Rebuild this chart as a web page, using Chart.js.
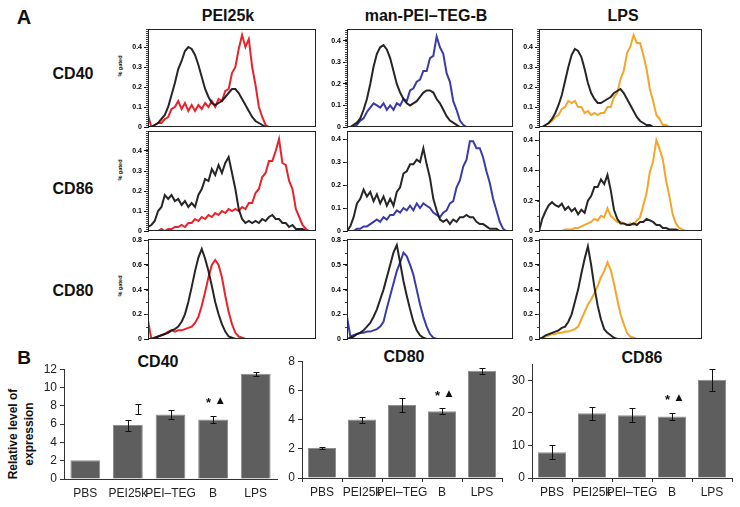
<!DOCTYPE html>
<html>
<head>
<meta charset="utf-8">
<script src="https://cdn.jsdelivr.net/npm/chart.js@4.4.1/dist/chart.umd.min.js"></script>
<style>
body { margin: 0; background: #fff; width: 740px; height: 507px; overflow: hidden; position: relative;
       font-family: "Liberation Sans", Arial, sans-serif; color: #111; }
canvas { position: absolute; }
.t { position: absolute; transform: translate(-50%, -50%); font-weight: bold; white-space: nowrap; }
.rot { transform: translate(-50%, -50%) rotate(-90deg); text-align: center; }
</style>
</head>
<body>
<div class="t" style="left:24px;top:17px;font-size:20px">A</div>
<div class="t" style="left:228px;top:16px;font-size:16px">PEI25k</div>
<div class="t" style="left:426px;top:16px;font-size:16px">man-PEI–TEG-B</div>
<div class="t" style="left:623px;top:16px;font-size:16px">LPS</div>
<div class="t" style="left:73px;top:74px;font-size:16px">CD40</div>
<div class="t" style="left:73px;top:189px;font-size:16px">CD86</div>
<div class="t" style="left:73px;top:291px;font-size:16px">CD80</div>
<div class="t rot" style="left:120px;top:66px;font-size:5.5px">% gated</div>
<div class="t rot" style="left:120px;top:170px;font-size:5.5px">% gated</div>
<div class="t rot" style="left:120px;top:286px;font-size:5.5px">% gated</div>
<div class="t" style="left:24px;top:358px;font-size:19px">B</div>
<div class="t" style="left:158px;top:362px;font-size:16px">CD40</div>
<div class="t" style="left:404px;top:357px;font-size:16px">CD80</div>
<div class="t" style="left:642px;top:358px;font-size:16px">CD86</div>
<div class="t rot" style="left:21px;top:434px;font-size:12px;line-height:16px">Relative level of<br>expression</div>

<script>
// Histogram x positions (percent of the fluorescence axis)
const bins = [0, 2, 4, 6, 8, 10, 12, 14, 16, 18, 20, 22, 24, 26, 28, 30, 32, 34, 36, 38,
              40, 42, 44, 46, 48, 50, 52, 54, 56, 58, 60, 62, 64, 66, 68, 70, 72, 74, 76, 78,
              80, 82, 84, 86, 88, 90, 92, 94, 96, 98];

// CD40 row (% gated)
const cd40Control = [0, 0, 0.01, 0.02, 0.04, 0.06, 0.1, 0.16, 0.22, 0.29,
                     0.33, 0.38, 0.4, 0.39, 0.36, 0.31, 0.25, 0.19, 0.15, 0.12,
                     0.11, 0.12, 0.13, 0.15, 0.17, 0.19, 0.19, 0.17, 0.14, 0.11,
                     0.08, 0.05, 0.03, 0.02, 0.01, 0];
const cd40Pei = [0.06, 0, 0.01, 0.02, 0.02, 0.04, 0.05, 0.09, 0.1, 0.13,
                 0.09, 0.12, 0.08, 0.11, 0.08, 0.11, 0.09, 0.12, 0.1, 0.13,
                 0.1, 0.14, 0.13, 0.18, 0.19, 0.27, 0.3, 0.39, 0.46, 0.4,
                 0.44, 0.3, 0.21, 0.1, 0.05, 0.01, 0];
const cd40ControlB = [0, 0, 0.01, 0.02, 0.04, 0.08, 0.13, 0.2, 0.28, 0.34,
                      0.37, 0.38, 0.36, 0.32, 0.26, 0.2, 0.16, 0.13, 0.11, 0.1,
                      0.11, 0.12, 0.14, 0.16, 0.17, 0.17, 0.16, 0.13, 0.11, 0.08,
                      0.05, 0.03, 0.02, 0.01, 0];
const cd40ManB = [0, 0, 0, 0.01, 0.03, 0.04, 0.07, 0.09, 0.11, 0.1,
                  0.09, 0.11, 0.08, 0.1, 0.08, 0.11, 0.1, 0.13, 0.12, 0.17,
                  0.18, 0.21, 0.22, 0.26, 0.26, 0.32, 0.33, 0.42, 0.37, 0.34,
                  0.25, 0.21, 0.12, 0.08, 0.03, 0.01, 0];
const cd40ControlL = [0, 0, 0.01, 0.02, 0.04, 0.07, 0.11, 0.16, 0.23, 0.3,
                      0.36, 0.39, 0.38, 0.35, 0.29, 0.22, 0.17, 0.14, 0.12, 0.12,
                      0.13, 0.14, 0.15, 0.17, 0.18, 0.19, 0.17, 0.14, 0.11, 0.08,
                      0.05, 0.03, 0.02, 0.01, 0.01, 0];
const cd40Lps = [0, 0, 0.01, 0.02, 0.03, 0.05, 0.06, 0.09, 0.1, 0.13,
                 0.12, 0.13, 0.1, 0.1, 0.07, 0.08, 0.06, 0.07, 0.06, 0.07,
                 0.07, 0.1, 0.1, 0.15, 0.17, 0.24, 0.28, 0.37, 0.4, 0.46,
                 0.42, 0.42, 0.36, 0.29, 0.19, 0.13, 0.06, 0.04, 0.01, 0.01, 0];

// CD86 row
const cd86Control = [0.02, 0.03, 0.05, 0.1, 0.12, 0.18, 0.16, 0.18, 0.15, 0.16,
                     0.13, 0.15, 0.12, 0.14, 0.12, 0.18, 0.21, 0.26, 0.25, 0.31,
                     0.28, 0.33, 0.29, 0.34, 0.37, 0.29, 0.21, 0.11, 0.06, 0.04,
                     0.05, 0.04, 0.05, 0.04, 0.06, 0.05, 0.07, 0.08, 0.06, 0.06,
                     0.04, 0.04, 0.02, 0.03, 0.01, 0.01, 0.01, 0];
const cd86Pei = [0, 0, 0, 0, 0.01, 0, 0.01, 0.01, 0.02, 0.02,
                 0.03, 0.02, 0.04, 0.04, 0.06, 0.05, 0.07, 0.06, 0.08, 0.07,
                 0.09, 0.08, 0.1, 0.09, 0.11, 0.1, 0.11, 0.1, 0.12, 0.11,
                 0.14, 0.14, 0.19, 0.21, 0.27, 0.29, 0.35, 0.35, 0.4, 0.46,
                 0.34, 0.33, 0.25, 0.21, 0.11, 0.07, 0.03, 0.01, 0];
const cd86ControlB = [0, 0.02, 0.06, 0.12, 0.14, 0.18, 0.15, 0.17, 0.13, 0.16,
                      0.12, 0.15, 0.11, 0.14, 0.11, 0.17, 0.19, 0.25, 0.26, 0.29,
                      0.29, 0.31, 0.3, 0.36, 0.29, 0.23, 0.14, 0.09, 0.05, 0.04,
                      0.05, 0.03, 0.05, 0.04, 0.06, 0.06, 0.07, 0.06, 0.06, 0.04,
                      0.03, 0.03, 0.02, 0.01, 0.01, 0.01, 0];
const cd86ManB = [0, 0, 0, 0.01, 0.01, 0.02, 0.02, 0.03, 0.04, 0.05,
                  0.04, 0.06, 0.05, 0.07, 0.07, 0.09, 0.08, 0.1, 0.09, 0.11,
                  0.09, 0.12, 0.1, 0.12, 0.11, 0.1, 0.08, 0.07, 0.06, 0.08,
                  0.09, 0.12, 0.13, 0.19, 0.22, 0.28, 0.31, 0.39, 0.39, 0.36,
                  0.36, 0.32, 0.26, 0.21, 0.14, 0.09, 0.04, 0.01, 0];
const cd86ControlL = [0, 0.08, 0.13, 0.17, 0.19, 0.17, 0.16, 0.18, 0.14, 0.16,
                      0.13, 0.15, 0.11, 0.14, 0.12, 0.2, 0.23, 0.29, 0.29, 0.34,
                      0.31, 0.37, 0.27, 0.14, 0.08, 0.05, 0.05, 0.04, 0.04, 0.05,
                      0.04, 0.06, 0.06, 0.08, 0.07, 0.06, 0.04, 0.04, 0.02, 0.02,
                      0.01, 0.01, 0.01, 0];
const cd86Lps = [0, 0, 0, 0, 0, 0, 0, 0, 0.01, 0.01,
                 0.01, 0.02, 0.02, 0.03, 0.04, 0.05, 0.06, 0.08, 0.07, 0.1,
                 0.09, 0.15, 0.1, 0.08, 0.06, 0.06, 0.05, 0.04, 0.05, 0.04,
                 0.07, 0.09, 0.17, 0.25, 0.39, 0.46, 0.6, 0.54, 0.47, 0.33,
                 0.23, 0.11, 0.05, 0.02, 0.01, 0];

// CD80 row
const cd80Control = [0, 0, 0.01, 0.02, 0.03, 0.04, 0.05, 0.07, 0.08, 0.1,
                     0.14, 0.2, 0.3, 0.42, 0.55, 0.66, 0.73, 0.65, 0.55, 0.43,
                     0.3, 0.2, 0.12, 0.06, 0.02, 0.01, 0];
const cd80Pei = [0.15, 0, 0.01, 0.02, 0.03, 0.04, 0.06, 0.07, 0.06, 0.07,
                 0.07, 0.08, 0.09, 0.1, 0.13, 0.18, 0.27, 0.38, 0.5, 0.6,
                 0.64, 0.6, 0.5, 0.35, 0.22, 0.12, 0.05, 0.02, 0.01, 0];
const cd80ControlB = [0, 0.01, 0.02, 0.04, 0.05, 0.07, 0.1, 0.13, 0.18, 0.24,
                      0.32, 0.4, 0.5, 0.6, 0.7, 0.76, 0.62, 0.47, 0.35, 0.24,
                      0.14, 0.07, 0.03, 0.01, 0];
const cd80ManB = [0.18, 0.02, 0.03, 0.04, 0.05, 0.05, 0.06, 0.06, 0.07, 0.08,
                  0.1, 0.14, 0.25, 0.35, 0.45, 0.55, 0.62, 0.7, 0.67, 0.6,
                  0.52, 0.4, 0.28, 0.18, 0.1, 0.04, 0.01, 0];
const cd80ControlL = [0, 0.01, 0.03, 0.04, 0.05, 0.06, 0.07, 0.09, 0.1, 0.14,
                      0.2, 0.3, 0.4, 0.53, 0.65, 0.75, 0.6, 0.42, 0.27, 0.16,
                      0.08, 0.05, 0.03, 0.01, 0];
const cd80Lps = [0, 0.01, 0.02, 0.03, 0.04, 0.04, 0.05, 0.05, 0.06, 0.06,
                 0.07, 0.08, 0.1, 0.16, 0.22, 0.28, 0.32, 0.37, 0.43, 0.5,
                 0.55, 0.62, 0.56, 0.45, 0.32, 0.2, 0.12, 0.05, 0.02, 0.01, 0];

// y tick labels as printed on each histogram
const ticks01 = ['0', '0.1', '0.2', '0.3', '0.4'];
const ticksCd86Lps = ['0', '0.2', '0.4', '0.4'];
const ticksCd80Pei = ['0', '0.2', '0.4', '0.6', '0.8'];
const ticksCd80Other = ['0', '0.2', '0.4', '0.5', '0.8'];

// Panel B: relative level of expression
const groups = ['PBS', 'PEI25k', 'PEI–TEG', 'B', 'LPS'];
const cd40Values = [2.05, 5.9, 7.05, 6.5, 11.5];
const cd40Errors = [0, 0.6, 0.5, 0.42, 0.2];
const cd80Values = [2.05, 4.0, 5.0, 4.57, 7.35];
const cd80Errors = [0.06, 0.2, 0.45, 0.2, 0.2];
const cd86Values = [7.9, 19.9, 19.3, 18.9, 30.2];
const cd86Errors = [2.1, 2.0, 2.2, 1.2, 3.3];
const sigMarks = ['', '', '', '* ▲', ''];
const cd40Floating = [null, [7.15, 8.25], null, null, null];

const FONT = '"Liberation Sans", Arial, sans-serif';

function makeCanvas(left, top, w, h) {
    const c = document.createElement('canvas');
    c.width = w;
    c.height = h;
    c.style.left = left + 'px';
    c.style.top = top + 'px';
    document.body.appendChild(c);
    return c;
}

// frame round the plot area, minor ticks and the printed y labels
const panelBox = {
    id: 'panelBox',
    afterDraw(chart, args, opts) {
        const { ctx, chartArea: a } = chart;
        const y = chart.scales.y;
        ctx.save();
        ctx.strokeStyle = '#222';
        ctx.lineWidth = 1;
        ctx.strokeRect(a.left + 0.5, a.top + 0.5, a.right - a.left - 1, a.bottom - a.top - 1);
        ctx.strokeStyle = '#444';
        ctx.beginPath();
        const n = Math.floor(y.max / opts.minor + 1e-9);
        for (let i = 1; i <= n; i++) {
            const py = Math.round(y.getPixelForValue(i * opts.minor)) + 0.5;
            ctx.moveTo(a.left - 2, py);
            ctx.lineTo(a.left, py);
        }
        ctx.stroke();
        ctx.fillStyle = '#000';
        ctx.font = 'bold 7px ' + FONT;
        ctx.textAlign = 'right';
        ctx.textBaseline = 'middle';
        opts.labels.forEach((lab, i) => {
            ctx.fillText(lab, a.left - 6, y.getPixelForValue(i * opts.major));
        });
        ctx.restore();
    }
};

const toPoints = vals => vals.map((v, i) => ({ x: bins[i], y: v }));

function histogram(p) {
    const cv = makeCanvas(p.left - 40, p.top - 6, p.w + 44, p.h + 12);
    new Chart(cv, {
        type: 'line',
        data: {
            datasets: [
                { data: toPoints(p.control), borderColor: 'rgba(20,20,20,0.92)', borderWidth: 2, pointRadius: 0, tension: 0 },
                { data: toPoints(p.treated), borderColor: p.color, borderWidth: 2, pointRadius: 0, tension: 0 }
            ]
        },
        options: {
            responsive: false,
            animation: false,
            layout: { padding: { left: 0, top: 6, right: 4, bottom: 6 } },
            plugins: {
                legend: { display: false },
                tooltip: { enabled: false },
                panelBox: { minor: p.minor, major: p.major, labels: p.labels }
            },
            scales: {
                x: { type: 'linear', min: 0, max: 100, display: false },
                y: {
                    min: 0,
                    max: p.max,
                    afterFit(s) { s.width = 40; },
                    afterBuildTicks(s) {
                        s.ticks = p.labels.map((lab, i) => ({ value: Math.round(i * p.major * 1000) / 1000 }));
                    },
                    border: { color: '#222' },
                    grid: { drawOnChartArea: false, tickLength: 4, color: '#111' },
                    ticks: { display: false }
                }
            }
        },
        plugins: [panelBox]
    });
}

const RED = '#e8232b', BLUE = '#3b3ba8', ORANGE = '#f5a52a';
const colLeft = [148, 347, 539], colWidth = [168, 166, 163];
const rowTop = [29, 131, 239], rowHeight = [98, 100, 100];

[
    { r: 0, c: 0, control: cd40Control, treated: cd40Pei, color: RED, max: 0.49, minor: 0.01, major: 0.1, labels: ticks01 },
    { r: 0, c: 1, control: cd40ControlB, treated: cd40ManB, color: BLUE, max: 0.455, minor: 0.01, major: 0.1, labels: ticks01 },
    { r: 0, c: 2, control: cd40ControlL, treated: cd40Lps, color: ORANGE, max: 0.49, minor: 0.01, major: 0.1, labels: ticks01 },
    { r: 1, c: 0, control: cd86Control, treated: cd86Pei, color: RED, max: 0.5, minor: 0.01, major: 0.1, labels: ticks01 },
    { r: 1, c: 1, control: cd86ControlB, treated: cd86ManB, color: BLUE, max: 0.435, minor: 0.1, major: 0.1, labels: ticks01 },
    { r: 1, c: 2, control: cd86ControlL, treated: cd86Lps, color: ORANGE, max: 0.66, minor: 0.1, major: 0.2, labels: ticksCd86Lps },
    { r: 2, c: 0, control: cd80Control, treated: cd80Pei, color: RED, max: 0.81, minor: 0.1, major: 0.2, labels: ticksCd80Pei },
    { r: 2, c: 1, control: cd80ControlB, treated: cd80ManB, color: BLUE, max: 0.81, minor: 0.1, major: 0.2, labels: ticksCd80Other },
    { r: 2, c: 2, control: cd80ControlL, treated: cd80Lps, color: ORANGE, max: 0.81, minor: 0.1, major: 0.2, labels: ticksCd80Other }
].forEach(p => histogram(Object.assign(p, {
    left: colLeft[p.c], w: colWidth[p.c], top: rowTop[p.r], h: rowHeight[p.r]
})));

// error bars, significance marks and the floating bar
const errorBars = {
    id: 'errorBars',
    afterDatasetsDraw(chart) {
        const { ctx } = chart;
        const y = chart.scales.y;
        const ds = chart.data.datasets[0];
        const meta = chart.getDatasetMeta(0);
        const capped = (x, lo, hi) => {
            const t = Math.round(y.getPixelForValue(hi)) + 0.5;
            const b = Math.round(y.getPixelForValue(lo)) + 0.5;
            ctx.beginPath();
            ctx.moveTo(x, t); ctx.lineTo(x, b);
            ctx.moveTo(x - 3, t); ctx.lineTo(x + 3, t);
            ctx.moveTo(x - 3, b); ctx.lineTo(x + 3, b);
            ctx.stroke();
        };
        ctx.save();
        ctx.strokeStyle = '#111';
        ctx.lineWidth = 1;
        meta.data.forEach((bar, i) => {
            const v = ds.data[i], e = ds.errors[i];
            const x = Math.round(bar.x) + 0.5;
            if (e) capped(x, v - e, v + e);
            if (ds.floating && ds.floating[i]) capped(x + 10, ds.floating[i][0], ds.floating[i][1]);
            if (sigMarks[i]) {
                const top = y.getPixelForValue(v + e) - 15;
                const [star, tri] = sigMarks[i].split(' ');
                ctx.fillStyle = '#111';
                ctx.textAlign = 'center';
                ctx.textBaseline = 'middle';
                ctx.font = 'bold 13px ' + FONT;
                ctx.fillText(star, bar.x - 4.5, top + 3);
                ctx.font = '9px "DejaVu Sans"';
                ctx.fillText(tri, bar.x + 7, top);
            }
        });
        ctx.restore();
    }
};

function barChart(b) {
    const cv = makeCanvas(b.left, b.top, b.w, b.h);
    new Chart(cv, {
        type: 'bar',
        data: {
            labels: groups,
            datasets: [{
                data: b.values,
                errors: b.errors,
                floating: b.floating,
                backgroundColor: '#5e5e5e',
                borderColor: '#8f8f8f',
                borderWidth: 1,
                barPercentage: 0.7,
                categoryPercentage: 1
            }]
        },
        options: {
            responsive: false,
            animation: false,
            layout: { padding: b.pad },
            plugins: { legend: { display: false }, tooltip: { enabled: false } },
            scales: {
                x: {
                    afterFit(s) { s.height = 24; },
                    border: { color: '#333' },
                    grid: { drawOnChartArea: false, tickLength: 4, offset: true, color: b.xTickColor },
                    ticks: { autoSkip: false, maxRotation: 0, minRotation: 0, padding: 3, color: '#222', font: { size: 12, family: FONT } }
                },
                y: {
                    min: 0,
                    max: b.max,
                    afterFit(s) { s.width = b.axisW; },
                    border: { color: '#333' },
                    grid: { drawOnChartArea: false, tickLength: 4, color: '#333' },
                    ticks: { stepSize: b.step, padding: 3, color: '#222', font: { size: 12, family: FONT } }
                }
            }
        },
        plugins: [errorBars]
    });
}

barChart({ left: 26, top: 359, w: 256, h: 148, axisW: 38, pad: { top: 10, right: 5, bottom: 4, left: 0 },
           values: cd40Values, errors: cd40Errors, floating: cd40Floating, max: 12, step: 2, xTickColor: 'rgba(0,0,0,0)' });
barChart({ left: 270, top: 351, w: 237, h: 156, axisW: 32, pad: { top: 10, right: 5, bottom: 5, left: 0 },
           values: cd80Values, errors: cd80Errors, max: 8, step: 1, xTickColor: '#333' });
barChart({ left: 500, top: 354, w: 240, h: 153, axisW: 32, pad: { top: 10, right: 8, bottom: 5, left: 0 },
           values: cd86Values, errors: cd86Errors, max: 35, step: 5, xTickColor: '#333' });
</script>
</body>
</html>
